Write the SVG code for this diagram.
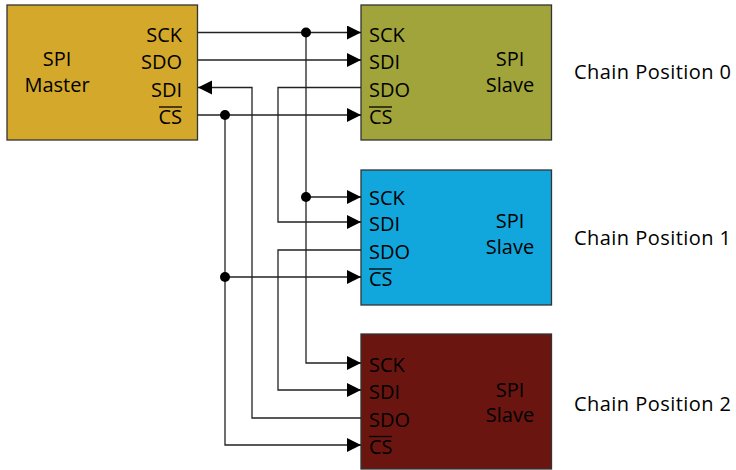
<svg xmlns="http://www.w3.org/2000/svg" width="736" height="470" viewBox="0 0 736 470">
  <defs>
    <marker id="arrow" markerUnits="userSpaceOnUse" markerWidth="15" markerHeight="15" refX="14" refY="7" orient="auto">
      <path d="M0,0 L14,7 L0,14 Z" fill="#000"/>
    </marker>
    <style>
      .box { stroke: #333; stroke-width: 1.3; }
      .lbl { font-family: "Open Sans", "Noto Sans", "Liberation Sans", sans-serif; font-size: 20px; fill: #000; }
      .chain { letter-spacing: 0.45px; }
      .mid { text-anchor: middle; }
      .end { text-anchor: end; }
      .ov { stroke: #000; stroke-width: 1.3; }
      .wire { fill: none; stroke: #222; stroke-width: 1.3; }
      .arr { marker-end: url(#arrow); }
      .dot { fill: #000; }
    </style>
  </defs>
  <rect width="736" height="470" fill="#fff"/>

  <g id="master">
    <rect class="box" x="7" y="5" width="190.5" height="135" fill="#D4A82A"/>
    <text class="lbl mid" x="57" y="66">SPI</text>
    <text class="lbl mid" x="57" y="92">Master</text>
    <text class="lbl end" x="182" y="41.5">SCK</text>
    <text class="lbl end" x="182" y="69">SDO</text>
    <text class="lbl end" x="182" y="96.5">SDI</text>
    <text class="lbl end" x="182" y="124">CS</text>
    <line class="ov" x1="159" y1="107" x2="182" y2="107"/>
  </g>

  <g id="slave0">
    <rect class="box" x="361" y="5" width="190.5" height="135" fill="#A0A43A"/>
    <text class="lbl" x="369" y="41.5">SCK</text>
    <text class="lbl" x="369" y="69">SDI</text>
    <text class="lbl" x="369" y="96.5">SDO</text>
    <text class="lbl" x="369" y="124">CS</text>
    <line class="ov" x1="369" y1="107" x2="392" y2="107"/>
    <text class="lbl mid" x="510" y="66">SPI</text>
    <text class="lbl mid" x="510" y="92">Slave</text>
    <text class="lbl chain" x="574" y="79">Chain Position 0</text>
  </g>

  <g id="slave1">
    <rect class="box" x="361" y="170" width="190.5" height="135" fill="#12A7DC"/>
    <text class="lbl" x="369" y="205">SCK</text>
    <text class="lbl" x="369" y="230.5">SDI</text>
    <text class="lbl" x="369" y="258.5">SDO</text>
    <text class="lbl" x="369" y="286">CS</text>
    <line class="ov" x1="369" y1="269" x2="392" y2="269"/>
    <text class="lbl mid" x="510" y="228">SPI</text>
    <text class="lbl mid" x="510" y="253.5">Slave</text>
    <text class="lbl chain" x="574" y="245">Chain Position 1</text>
  </g>

  <g id="slave2">
    <rect class="box" x="361" y="334" width="190.5" height="135" fill="#6B1510"/>
    <text class="lbl" x="369" y="371.5">SCK</text>
    <text class="lbl" x="369" y="398.5">SDI</text>
    <text class="lbl" x="369" y="426.5">SDO</text>
    <text class="lbl" x="369" y="453.5">CS</text>
    <line class="ov" x1="369" y1="436.5" x2="392" y2="436.5"/>
    <text class="lbl mid" x="510" y="397">SPI</text>
    <text class="lbl mid" x="510" y="422">Slave</text>
    <text class="lbl chain" x="574" y="411">Chain Position 2</text>
  </g>

  <g id="connectors">
    <path class="wire arr" d="M197.5,32.5 H361"/>
    <path class="wire arr" d="M306,32.5 V363 H361"/>
    <path class="wire arr" d="M306,197 H361"/>
    <path class="wire arr" d="M197.5,60 H361"/>
    <path class="wire arr" d="M361,87.5 H278 V222 H361"/>
    <path class="wire arr" d="M361,250 H278 V390 H361"/>
    <path class="wire arr" d="M361,418 H252 V87.5 H198"/>
    <path class="wire arr" d="M197.5,115 H361"/>
    <path class="wire arr" d="M225,115 V445 H361"/>
    <path class="wire arr" d="M225,277 H361"/>
    <circle class="dot" cx="306" cy="32.5" r="5"/>
    <circle class="dot" cx="306" cy="197" r="5"/>
    <circle class="dot" cx="225" cy="115" r="5"/>
    <circle class="dot" cx="225" cy="277" r="5"/>
  </g>
</svg>
